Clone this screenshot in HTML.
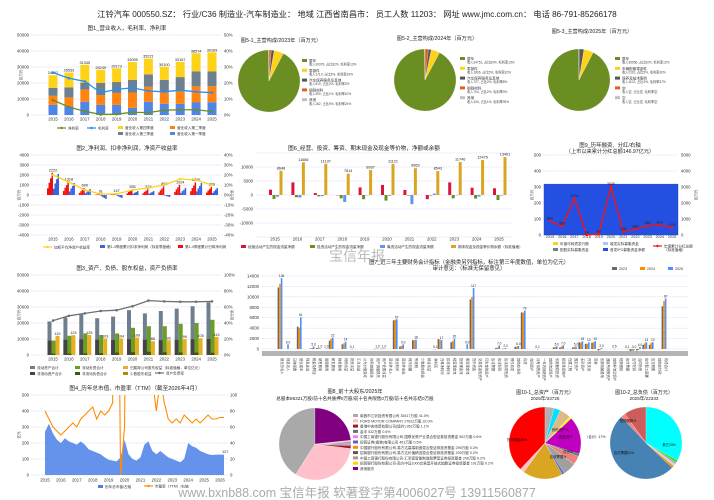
<!DOCTYPE html>
<html><head><meta charset="utf-8"><style>
html,body{margin:0;padding:0;background:#fff;}
svg{display:block;font-family:"Liberation Sans","Noto Sans CJK SC",sans-serif;}
</style></head><body>
<svg id="c" width="714" height="500" viewBox="0 0 714 500">
<text x="357" y="17" text-anchor="middle" font-size="8.2" fill="#222">江铃汽车 000550.SZ： 行业/C36 制造业-汽车制造业： 地域 江西省南昌市： 员工人数 11203： 网址 www.jmc.com.cn： 电话 86-791-85266178</text>
<text x="357" y="261" text-anchor="middle" font-size="14" fill="#bbb">宝信年报</text>
<text x="357" y="497" text-anchor="middle" font-size="12.5" fill="#aaa">www.bxnb88.com 宝信年报 软著登字第4006027号 13911560877</text>
</svg>
<script>
// ===== data =====
const years=['2015','2016','2017','2018','2019','2020','2021','2022','2023','2024','2025'];
const revQ1=[6300,5500,8300,6300,6300,4500,8300,7000,7000,7800,8000];
const revQ2=[5700,5500,7500,6200,7500,9500,9300,7500,8200,10100,10000];
const revQ3=[5000,6200,4400,7500,6800,8000,7800,7400,8500,9400,9200];
const revQ4=[7862,9333,11145,8249,8573,11095,9821,8200,9467,11274,11969];
const revLabels=['24862','26533','31345','28249','29173','33095','35221','30100','33167','38574','39169'];
const grossMargin=[26.5,23,21,14,16,17,15,14.5,15.5,14.5,14];
const netMargin=[9.3,5,2.3,0.3,0.5,1.7,1.5,3,3.3,3.3,2.2];

const netProfit=[2222,1318,690,91,147,555,574,862,1024,1255,809];
const deductProfit=[2100,1200,600,-400,-300,400,400,-200,700,1200,700];
const roe=[20,13,5,1,1,5,7,10,16,15,10];

const cfOper=[1900,4500,700,0,2700,3600,1800,-1500,4500,2600,2400];
const cfInv=[-1400,-800,-500,-1200,-1500,-2000,-200,-200,-1200,-1300,-1800];
const cfFin=[-600,-900,-400,-2500,-100,-300,-3300,500,-100,-600,-200];
const cashEnd=[8648,11656,11137,7614,8937,11121,9569,8543,11746,12475,13491];

const ipoFund=[318];
const dividend=[881,550,2276,14,60,3030,228,366,580,614,474];

const totalAssets=[21000,23500,25500,23000,24000,28000,26000,27500,29000,30500,33000];
const nonCurAssets=[9000,9500,9800,9500,9300,9800,9500,9300,9400,9800,10000];
const currentLiab=[9000,12000,13500,12500,13500,17000,18000,18000,19500,20000,22000];
const nonCurLiab=[800,900,1000,1200,1500,1800,2000,1700,1600,1500,1400];
const equity=[11900,12400,12500,10300,10400,10900,8600,9200,9900,10500,11300];
const debtRatio=[43,49,52,55,56,61,68,67,66.5,66.5,67];

const finCats=['营业总收入','利息收入','已赚保费','营业成本','利息支出','税金及附加','销售费用','管理费用','研发费用','财务费用','其他收益','投资收益','汇兑收益','公允价值变动','信用减值损失','资产减值损失','资产处置收益','营业外收入','营业利润','营业外支出','利润总额','所得税','少数股东损益','综合收益','净利润','归母净利润','扣非净利润','经营现金流','投资现金流','筹资现金流','货币资金','交易性金融资产','衍生金融资产','应收票据','应收账款','应收款项融资','预付款项','其他应收款','存货','合同资产','持有待售资产','一年内到期资产','其他流动资产','长期股权投资','投资性房地产','在建工程','固定资产','无形资产','开发支出','商誉','长期待摊费用','递延所得税资产','其他非流动资产','短期借款','应付票据','应付账款','合同负债','应付职工薪酬','应交税费','其他应付款','负债合计'];
const fin2023=[11800,0,0,4300,0,100,200,0,1600,0,900,0,0,0,0,30,40,0,5500,500,0,1700,0,0,0,1900,0,1300,0,0,9500,0,0,0,200,50,0,400,7000,0,0,0,0,300,300,0,300,1300,1000,1200,-300,0,0,0,0,-400,-300,800,800,0,8200];
const fin2024=[12500,0,0,4100,0,200,200,0,2000,0,1100,0,0,0,0,60,50,0,5600,600,0,1700,0,0,0,1800,0,1500,0,0,10000,0,0,0,300,100,0,500,7000,0,0,0,0,400,500,0,400,1200,1000,1300,-200,0,0,0,0,-400,-200,1100,1200,0,9200];
const fin2025=[13600,900,0,6100,0,500,100,100,2200,0,1400,10,0,0,0,100,100,0,5700,900,0,1800,0,0,10,1700,0,2000,0,900,11700,0,0,0,700,200,0,600,7400,0,10,0,0,500,700,0,500,1500,1300,1500,200,0,50,0,10,-300,400,1300,1300,0,9700];

const capTimes=[2015,2015.25,2015.5,2015.75,2016,2016.25,2016.5,2016.75,2017,2017.25,2017.5,2017.75,2018,2018.25,2018.5,2018.75,2019,2019.25,2019.5,2019.75,2020,2020.25,2020.5,2020.75,2021,2021.25,2021.5,2021.75,2022,2022.25,2022.5,2022.75,2023,2023.25,2023.5,2023.75,2024,2024.25,2024.5,2024.75,2025,2025.25,2025.5,2025.75,2026,2026.25];
const marketCap=[270,320,260,220,200,230,210,200,190,210,190,160,150,140,130,110,95,90,85,110,220,130,100,90,110,190,210,150,130,150,130,110,100,90,80,100,200,180,170,150,140,130,125,127,127,127];
const peTTM=[80,70,60,55,50,55,60,65,60,70,75,80,85,70,80,75,80,90,520,0,60,520,300,250,250,200,180,120,80,120,90,70,65,70,65,75,70,65,70,65,70,75,70,70,72,72];

const pie51=[1.2,1.5,5,92,0.3];
const pie52=[1.8,1.5,4.5,91.9,0.3];
const pie53=[0.1,2.5,5,92.3,0.1];
const holderVals=[41.0,32.0,1.1,0.6,0.6,0.5,0.3,0.2,0.2,0.2,23.3];
const holderNames=['南昌市江铃投资有限公司 35417万股 41.0%','FORD MOTOR COMPANY 27622万股 32.0%','香港中央结算有限公司(境外) 952万股 1.1%','金丰 532万股 0.6%','中国工商银行股份有限公司-国联优势产业混合型证券投资基金 502万股 0.6%','招商证券(香港)有限公司 461万股 0.5%','中国银行股份有限公司-易方达高端制造混合型证券投资基金 295万股 0.3%','招商银行股份有限公司-易方达价值精选混合型证券投资基金 209万股 0.2%','中国工商银行股份有限公司-汇添富智能制造股票型证券投资基金 206万股 0.2%','招商银行股份有限公司-南方中证1000交易型开放式指数证券投资基金 191万股 0.2%','其他股东'];
const assetVals=[38,2,18,1,6,4,1,17,1,5,3,4];
const liabVals=[10,2,51,1,1,1,1,33];

// ===== helpers =====
const NS='http://www.w3.org/2000/svg';
const svg=document.getElementById('c');
function el(tag,a,p){const e=document.createElementNS(NS,tag);for(const k in a)e.setAttribute(k,a[k]);(p||svg).appendChild(e);return e;}
function tx(s,a,p){const e=el('text',a,p);e.textContent=s;return e;}
function lin(d0,d1,r0,r1){return v=>r0+(v-d0)/(d1-d0)*(r1-r0);}
function gridY(x0,x1,y){const e=el('line',{x1:x0,x2:x1,y1:y,y2:y,stroke:'#c8c8f4','stroke-width':0.5,'stroke-dasharray':'1.5 1'});

}
function tick(s,x,y,anchor,name){const e=tx(s,{x:x,y:y+1.5,'font-size':4.3,fill:'#333','text-anchor':anchor});

}
function title(s,x,y,name,fs){const e=tx(s,{x:x,y:y,'font-size':fs||5.6,fill:'#222','text-anchor':'middle'});

}
function legRect(x,y,c,s,name){const r=el('rect',{x:x,y:y-2,width:5,height:3,fill:c});


const t=tx(s,{x:x+7,y:y+1,'font-size':3.6,fill:'#333'});

}
function legLine(x,y,c,s,name){const l=el('line',{x1:x,x2:x+9,y1:y,y2:y,stroke:c,'stroke-width':1.2});


el('circle',{cx:x+4.5,cy:y,r:1.2,fill:c});
const t=tx(s,{x:x+11,y:y+1.3,'font-size':3.6,fill:'#333'});

}
function yLabel(s,x,y){const e=tx(s,{x:x,y:y,'font-size':3.6,fill:'#333','text-anchor':'middle',transform:`rotate(-90 ${x} ${y})`});

}
function polyline(pts,c,w,name,marker){const p=el('polyline',{points:pts.map(q=>q.join(',')).join(' '),fill:'none',stroke:c,'stroke-width':w});


if(marker){pts.forEach(q=>{const m=el('circle',{cx:q[0],cy:q[1],r:1.3,fill:c});

});}}
function pie(cx,cy,r,vals,cols,dir,name){const tot=vals.reduce((a,b)=>a+b,0);let a=-Math.PI/2;
vals.forEach((v,i)=>{const da=dir*v/tot*2*Math.PI;const a2=a+da;
const x1=cx+r*Math.cos(a),y1=cy+r*Math.sin(a),x2=cx+r*Math.cos(a2),y2=cy+r*Math.sin(a2);
const large=Math.abs(da)>Math.PI?1:0;const sw=dir>0?1:0;
const p=el('path',{d:`M${cx},${cy}L${x1},${y1}A${r},${r} 0 ${large} ${sw} ${x2},${y2}Z`,fill:cols[i],stroke:'#fff','stroke-width':0.2});


a=a2;});}

// ===== Chart 1 =====
(function(){
const X=i=>53+i*15.9, Y=lin(0,50000,115,35), YR=lin(0,50,115,35);
title('图1_营业收入，毛利率、净利率',127,30,'chart1-title');
for(let v=0;v<=50000;v+=10000){gridY(31,222,Y(v));tick(String(v),29,Y(v),'end','y-tick-left');tick((v/1000)+'%',224,Y(v),'start','y-tick-right');}
yLabel('百万元',22,75);
years.forEach((yr,i)=>{tick(yr,X(i),119,'middle','x-tick');
let base=0;[[revQ1,'#4f85e8'],[revQ2,'#ff8412'],[revQ3,'#6e7f90'],[revQ4,'#ffd21a']].forEach(([arr,c])=>{
const b=el('rect',{x:X(i)-4.5,y:Y(base+arr[i]),width:9,height:Y(base)-Y(base+arr[i]),fill:c});


base+=arr[i];});
const l=tx(revLabels[i],{x:X(i),y:Y(base)-1,'font-size':3.8,fill:'#222','text-anchor':'middle'});

});
polyline(grossMargin.map((v,i)=>[X(i),YR(v)]),'#1e90ff',1.3,'gross-margin-line',true);
polyline(netMargin.map((v,i)=>[X(i),YR(v)]),'#6b8e23',1.3,'net-margin-line',true);
legLine(57,128,'#6b8e23','净利率','legend-net-margin');
legLine(87,128,'#1e90ff','毛利率','legend-gross-margin');
legRect(118,128,'#ffd21a','营业收入第四季度','legend-q4');
legRect(170,128,'#ff8412','营业收入第二季度','legend-q2');
legRect(118,134,'#6e7f90','营业收入第三季度','legend-q3');
legRect(170,134,'#4f85e8','营业收入第一季度','legend-q1');
})();

// ===== Pies 5 =====
const pcols=['#e0601a','#555555','#ffd21a','#6b8e23','#c0c0c0'];
function pieBlock(cx,cy,tx0,ty,lx,ly,vals,ttl,items,name){
title(ttl,tx0,ty,name+'-title',5.2);
pie(cx,cy,31,vals,pcols,1,name);
const lc=['#6b8e23','#ffd21a','#555555','#e0601a','#c0c0c0'];
items.forEach((it,k)=>{const y=ly+k*9.8;legRect(lx,y,lc[k],it[0],name+'-legend');
const t=tx(it[1],{x:lx+7,y:y+4.6,'font-size':3.2,fill:'#444'});

});}
pieBlock(269,81,281,42,302,61,pie51,'图5-1_主营构成/2023年（百万元）',[['整车','收入30379, 占比92%, 毛利率13%'],['零部件','收入1719, 占比5%, 毛利率29%'],['汽车保养服务及其他','收入519, 占比2%, 毛利率2%'],['钢铁材料','收入390, 占比1%, 毛利率10%'],['其他','收入162, 占比0%, 毛利率24%']],'pie-2023');
pieBlock(425,80,437,40,460,59,pie52,'图5-2_主营构成/2024年（百万元）',[['整车','收入34751, 占比90%, 毛利率13%'],['零部件','收入1806, 占比5%, 毛利率32%'],['汽车保养服务及其他','收入727, 占比2%, 毛利率8%'],['钢铁材料','收入704, 占比2%, 毛利率3%'],['其他','收入434, 占比1%, 毛利率39%']],'pie-2024');
pieBlock(579,80,592,33,615,59,pie53,'图5-3_主营构成/2025年（百万元）',[['整车','收入35956, 占比92%, 毛利率12%'],['车辆配套零部件','收入2110, 占比5%, 毛利率30%'],['保养及技术服务','收入1102, 占比3%, 毛利率37%'],['空','收入空, 占比空, 毛利率空'],['空','收入空, 占比空, 毛利率空']],'pie-2025');

// ===== Chart 2 =====
(function(){
const X=i=>53+i*15.9, Y=lin(-4000,4000,235,155), YR=lin(-40,40,235,155);
title('图2_净利润、扣非净利润，净资产收益率',127,150,'chart2-title');
for(let v=-4000;v<=4000;v+=1000){gridY(31,222,Y(v));tick(String(v),29,Y(v),'end','y-tick-left');tick((v/100)+'%',224,Y(v),'start','y-tick-right');}
yLabel('百万元',20,195);yLabel('百分比',233,195);
const qs=[0.3,0.55,0.75,1];
years.forEach((yr,i)=>{tick(yr,X(i),239,'middle','x-tick');
qs.forEach((q,k)=>{const v=netProfit[i]*q;const b=el('rect',{x:X(i)-6+k*1.5,y:Math.min(Y(v),Y(0)),width:1.5,height:Math.abs(Y(v)-Y(0)),fill:'#f01010'});


const d=deductProfit[i]*q;const c=el('rect',{x:X(i)+k*1.5,y:Math.min(Y(d),Y(0)),width:1.5,height:Math.abs(Y(d)-Y(0)),fill:'#3565e0'});

});
const l=tx(String(netProfit[i]),{x:X(i),y:Y(Math.max(netProfit[i],deductProfit[i],0))-1.5,'font-size':3.8,fill:'#222','text-anchor':'middle'});

});
polyline(roe.map((v,i)=>[X(i),YR(v)]),'#ffd21a',1.3,'roe-line',true);
legLine(43,247,'#ffd21a','加权平均净资产收益率','legend-roe');
legRect(100,247,'#3565e0','第1-4季度累计扣非净利润（标准季度格）','legend-deduct');
legRect(178,247,'#f01010','第1-4季度累计归母净利润','legend-net');
})();

// ===== Chart 6 =====
(function(){
const X=i=>275+i*22.4, Y=lin(-10000,10000,223,167);
title('图6_经营、投资、筹资、期末现金及现金等价物，净额或余额',364,150,'chart6-title');
for(let v=-15000;v<=15000;v+=5000){gridY(256,512,Y(v));}
for(let v=-10000;v<=10000;v+=5000){tick(String(v),253,Y(v),'end','y-tick-left');}
[[cfOper,'#dc143c',-6],[cfInv,'#6b8e23',-2.5],[cfFin,'#6495ed',1],[cashEnd,'#daa520',4.5]].forEach(([arr,c,o])=>{
arr.forEach((v,i)=>{const b=el('rect',{x:X(i)+o,y:Math.min(Y(v),Y(0)),width:3,height:Math.max(0.3,Math.abs(Y(v)-Y(0))),fill:c});

});});
years.forEach((yr,i)=>{tick(yr,X(i),239,'middle','x-tick');
const l=tx(String(cashEnd[i]),{x:X(i)+6,y:Y(cashEnd[i])-1.5,'font-size':3.8,fill:'#222','text-anchor':'middle'});

});
legRect(241,247,'#dc143c','经营活动产生的现金流量净额','legend-operating');
legRect(310,247,'#6b8e23','投资活动产生的现金流量净额','legend-investing');
legRect(380,247,'#6495ed','筹资活动产生的现金流量净额','legend-financing');
legRect(451,247,'#daa520','期末现金及现金等价物余额（标准值格）','legend-cash-end');
})();

// ===== Chart 9 =====
(function(){
const X=i=>550+i*12.2, Y=lin(0,500,235,155), YR=lin(0,5000,235,155);
title('图9_历年融资、分红/右轴',610,147,'chart9-title',5.4);
title('（上市以来累计分红总额146.97亿元）',610,153,'chart9-subtitle',5.2);
for(let v=0;v<=500;v+=100){gridY(543,678,Y(v));tick(String(v),541,Y(v),'end','y-tick-left');tick(String(v*10),681,Y(v),'start','y-tick-right');}
yLabel('百万元',533,195);yLabel('百万元',697,195);
const r=el('rect',{x:544,y:Y(ipoFund[0]),width:134,height:Y(0)-Y(ipoFund[0]),fill:'#2350e0',stroke:'#1a3ab0','stroke-width':0.4});


years.forEach((yr,i)=>{const e=tx(yr,{x:X(i),y:238,'font-size':3.8,fill:'#333','text-anchor':'middle'});

});
polyline(dividend.map((v,i)=>[X(i),YR(v)]),'#ff1010',1.3,'dividend-line',true);
dividend.forEach((v,i)=>{const l=tx(String(v),{x:X(i),y:YR(v)-1.5,'font-size':3.6,fill:'#222','text-anchor':'middle'});

});
legRect(553,244,'#ffd21a','年度可转债发行额','legend-convertible');
legRect(603,244,'#a8c8f0','增发实际募集资金','legend-placement');
legRect(553,250,'#6e7f90','配股实际募集资金','legend-rights');
legRect(603,250,'#2350e0','首发IPO募集资金净额','legend-ipo');
legLine(653,246,'#ff1010','年度累计分红总额','legend-dividend');
const t=tx('（标准值格）',{x:664,y:251,'font-size':3.6,fill:'#333'});


})();

// ===== Chart 7 =====
(function(){
const X=i=>280+i*6.4, Y=lin(0,14000,349,276);
title('图7_近三年主要财务会计指标（金融类另列指标，标注第三年度数值，单位为亿元）',469,264,'chart7-title',5.4);
title('审计意见：（标准无保留意见）',469,270,'chart7-subtitle',5.4);
legRect(612,269,'#696969','2023','legend-2023');
legRect(640,269,'#ff8c00','2024','legend-2024');
legRect(668,269,'#4a90ff','2025','legend-2025');
for(let v=0;v<=14000;v+=2000){gridY(262,688,Y(v));tick(String(v),259,Y(v),'end','y-tick-left');}
const band=el('rect',{x:262,y:351,width:426,height:5,fill:'#b4b4b4'});


finCats.forEach((c,i)=>{
[[fin2023,'#696969',-2.4],[fin2024,'#ff8c00',-0.8],[fin2025,'#4a90ff',0.8]].forEach(([arr,col,o])=>{const v=arr[i];if(!v)return;
const b=el('rect',{x:X(i)+o,y:Math.min(Y(v),Y(0)),width:1.6,height:Math.max(0.4,Math.abs(Y(v)-Y(0))),fill:col});

});
const v=fin2025[i];if(v){const s=Math.abs(v)>=1000?String(Math.round(v/100)):(v/100).toFixed(1);
const l=tx(s,{x:X(i)+1.6,y:Y(Math.max(v,0))-1,'font-size':3.2,fill:'#222','text-anchor':'middle'});

}
const t=tx(c,{x:X(i)+0.8,y:358,'font-size':3.3,fill:'#333',transform:`rotate(90 ${X(i)+0.8} 358)`});

});
})();

// ===== Chart 3 =====
(function(){
const X=i=>53+i*15.9, Y=lin(0,50000,355,275), YR=lin(0,100,355,275);
title('图3_资产、负债、股东权益，资产负债率',127,270,'chart3-title');
for(let v=0;v<=50000;v+=10000){gridY(31,222,Y(v));tick(String(v),29,Y(v),'end','y-tick-left');tick((v/500)+'%',224,Y(v),'start','y-tick-right');}
yLabel('百万元',20,315);yLabel('百分比',233,315);
years.forEach((yr,i)=>{tick(yr,X(i),359,'middle','x-tick');
[[totalAssets,'#6e7f90',-5.5],[nonCurAssets,'#444',-5.5],[currentLiab,'#6b9e23',-1.5],[nonCurLiab,'#3a5a10',-1.5],[equity,'#e8b020',2.5]].forEach(([arr,c,o])=>{
const b=el('rect',{x:X(i)+o,y:Y(arr[i]),width:4,height:Y(0)-Y(arr[i]),fill:c});

});
const l=tx(String(Math.round(equity[i]/100)),{x:X(i)+4.5,y:Y(equity[i])-1,'font-size':3.8,fill:'#222','text-anchor':'middle'});

});
polyline(debtRatio.map((v,i)=>[X(i),YR(v)]),'#707070',1.3,'debt-ratio-line',true);
legRect(30,368,'#6e7f90','流动资产合计','legend-current-assets');
legRect(75,368,'#6b9e23','流动负债合计','legend-current-liab');
legRect(123,368,'#e8b020','归属母公司股东权益（标准值格，单位亿元）','legend-equity');
legRect(30,374,'#444','非流动资产合计','legend-noncurrent-assets');
legRect(75,374,'#3a5a10','非流动负债合计','legend-noncurrent-liab');
legRect(123,374,'#b8860b','少数股东权益','legend-minority');
legLine(155,373,'#707070','资产负债率','legend-debt-ratio');
})();

// ===== Chart 4 =====
(function(){
const X=lin(2015,2026,45,220), Y=lin(0,500,475,395), YR=lin(0,100,475,395);
title('图4_历年总市值、市盈率（TTM）（截至2026年4月）',135,390,'chart4-title');
const defs=el('defs',{});const cp=el('clipPath',{id:'cp4'},defs);el('rect',{x:31,y:395,width:197,height:80},cp);
for(let v=0;v<=500;v+=100){gridY(31,228,Y(v));tick(String(v),29,Y(v),'end','y-tick-left');tick(String(v/5),230,Y(v),'start','y-tick-right');}
yLabel('亿元',20,435);
let d=`M${X(capTimes[0])},${Y(0)}`;capTimes.forEach((t,i)=>{d+=`L${X(t)},${Y(marketCap[i])}`;});d+=`L${X(capTimes[capTimes.length-1])},${Y(0)}Z`;
const a=el('path',{d:d,fill:'#4a7fe8','fill-opacity':0.85});


const g=el('g',{'clip-path':'url(#cp4)'});
const pl=el('polyline',{points:capTimes.map((t,i)=>X(t)+','+YR(peTTM[i])).join(' '),fill:'none',stroke:'#ff8c00','stroke-width':1.1},g);


const lt=tx(String(marketCap[marketCap.length-1]),{x:X(capTimes[capTimes.length-1])-2,y:Y(marketCap[marketCap.length-1])-1.5,'font-size':3.8,fill:'#222'});


for(let y=2015;y<=2026;y++){tick(String(y),X(y),480,'middle','x-tick');}
legRect(98,487,'#4a7fe8','历年总市值/左轴','legend-market-cap');
legLine(144,486,'#ff8c00','市盈率（TTM）/右轴','legend-pe');
})();

// ===== Pie 8 =====
(function(){
title('图8_前十大股东/2025年',355,393,'pie8-title',5.2);
title('总股本86321万股/前十名共质押0万股/前十名共限售0万股/前十名共冻结0万股',355,400,'pie8-subtitle',4.6);
const cols=['#a9a9a9','#ffc0cb','#a01818','#707070','#ee82ee','#6a5acd','#ff8c00','#5a5a5a','#bc8f8f','#ffd700','#800080'];
pie(315,444,36,holderVals,cols,-1,'holder');
holderNames.forEach((n,k)=>legRect(353,416+k*5.3,cols[k],n,'holder-legend'));
})();

// ===== Pie 10 =====
(function(){
title('图10-1_总资产（百万元）',545,394,'pie10-1-title',5);
title('2025年/33725',545,400,'pie10-1-subtitle',4.6);
pie(545,443,36,assetVals,['#ff0000','#ffc0cb','#daa520','#4169e1','#a0a0a0','#f08080','#2e8b57','#c000c0','#ffff00','#deb887','#00e0ff','#b0b0b0'],-1,'asset');
[['货币资金38%',517,441],['其他资产%',560,431],['固定资产',566,438],['存货%',568,453],['应收票据%',558,458]].forEach(([s,x,y])=>{const t=tx(s,{x:x,y:y,'font-size':3.4,fill:'#111','text-anchor':'middle'});

});
const t2=tx('（合计）17%',{x:585,y:438,'font-size':3.4,fill:'#111'});


title('图10-2_总负债（百万元）',644,394,'pie10-2-title',5);
title('2025年/22333',644,400,'pie10-2-subtitle',4.6);
pie(646,443,36,liabVals,['#cd5c5c','#fa8072','#4682b4','#ff8c00','#d3d3d3','#a9a9a9','#22dd22','#00ffff'],-1,'liability');
[['短期借款%',628,422],['应付票据51%',624,454],['其它33%',669,446]].forEach(([s,x,y])=>{const t=tx(s,{x:x,y:y,'font-size':3.4,fill:'#111','text-anchor':'middle'});

});
})();
</script>
</body></html>
